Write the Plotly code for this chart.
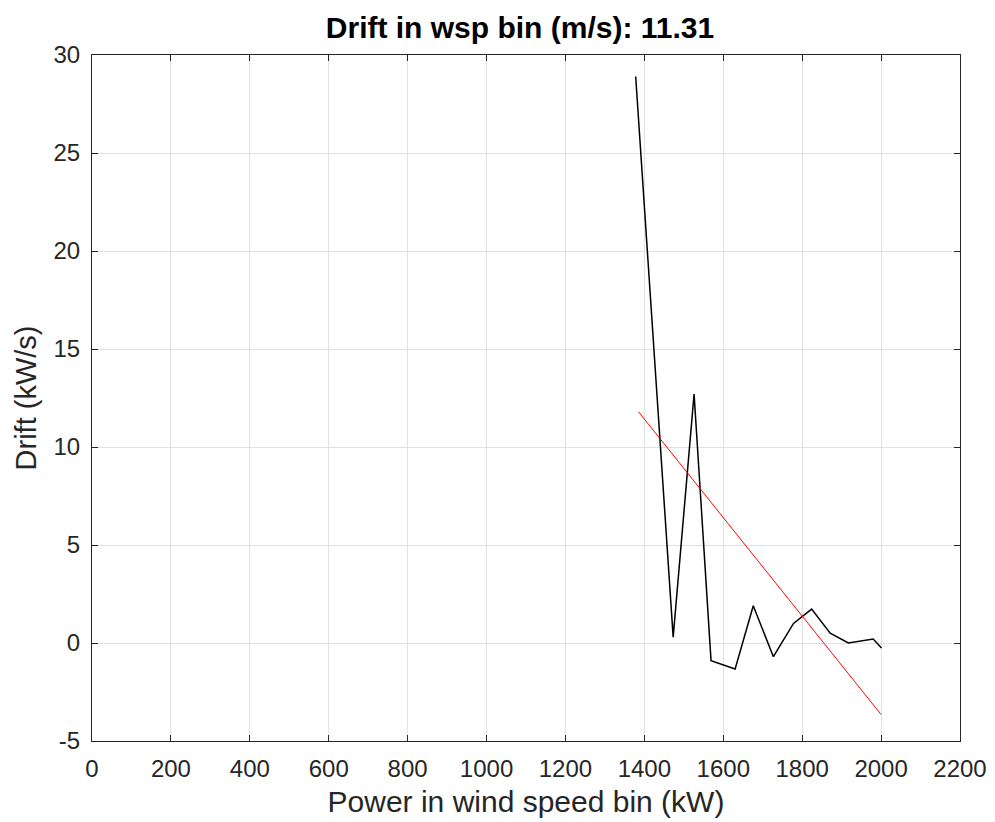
import plotly.graph_objects as go

# Drift curve (black)
power_kw = [1378, 1473, 1526, 1569, 1630, 1676, 1727, 1778, 1824, 1871, 1917, 1945, 1980, 2001]
drift_kws = [28.9, 0.3, 12.7, -0.9, -1.33, 1.9, -0.7, 1.0, 1.73, 0.5, 0.0, 0.1, 0.2, -0.25]

# Linear fit (red)
fit_power_kw = [1385, 2000]
fit_drift_kws = [11.8, -3.65]

x_ticks = [0, 200, 400, 600, 800, 1000, 1200, 1400, 1600, 1800, 2000, 2200]
y_ticks = [-5, 0, 5, 10, 15, 20, 25, 30]

fig = go.Figure()
fig.add_trace(go.Scatter(x=power_kw, y=drift_kws, mode="lines",
                         line=dict(color="black", width=1.5), showlegend=False))
fig.add_trace(go.Scatter(x=fit_power_kw, y=fit_drift_kws, mode="lines",
                         line=dict(color="red", width=1), showlegend=False))

font_family = "Liberation Sans, Arial, sans-serif"
axis_common = dict(
    showgrid=True, gridcolor="#e1e1e1", gridwidth=1,
    showline=True, linecolor="#262626", linewidth=1, mirror="ticks",
    ticks="inside", ticklen=6, tickcolor="#262626",
    zeroline=False, automargin=False,
    tickfont=dict(family=font_family, size=24, color="#262626"),
)

fig.update_layout(
    width=995, height=822,
    paper_bgcolor="white", plot_bgcolor="white",
    margin=dict(l=84, r=43, t=47, b=89),
    title=dict(text="<b>Drift in wsp bin (m/s): 11.31</b>", x=512 / 995, xanchor="center",
               xref="container", y=1 - 19 / 822, yanchor="middle",
               font=dict(family=font_family, size=30, color="black")),
    xaxis=dict(range=[0, 2200], tickvals=x_ticks, ticktext=[str(v) for v in x_ticks],
               ticklabelstandoff=6,
               title=dict(text="Power in wind speed bin (kW)", standoff=10,
                          font=dict(family=font_family, size=30, color="#262626")),
               **axis_common),
    yaxis=dict(range=[-5, 30], tickvals=y_ticks, ticktext=[str(v) for v in y_ticks],
               ticklabelstandoff=6,
               title=dict(text="Drift (kW/s)", standoff=8,
                          font=dict(family=font_family, size=29, color="#262626")),
               **axis_common),
)

fig.write_html("out.html")
